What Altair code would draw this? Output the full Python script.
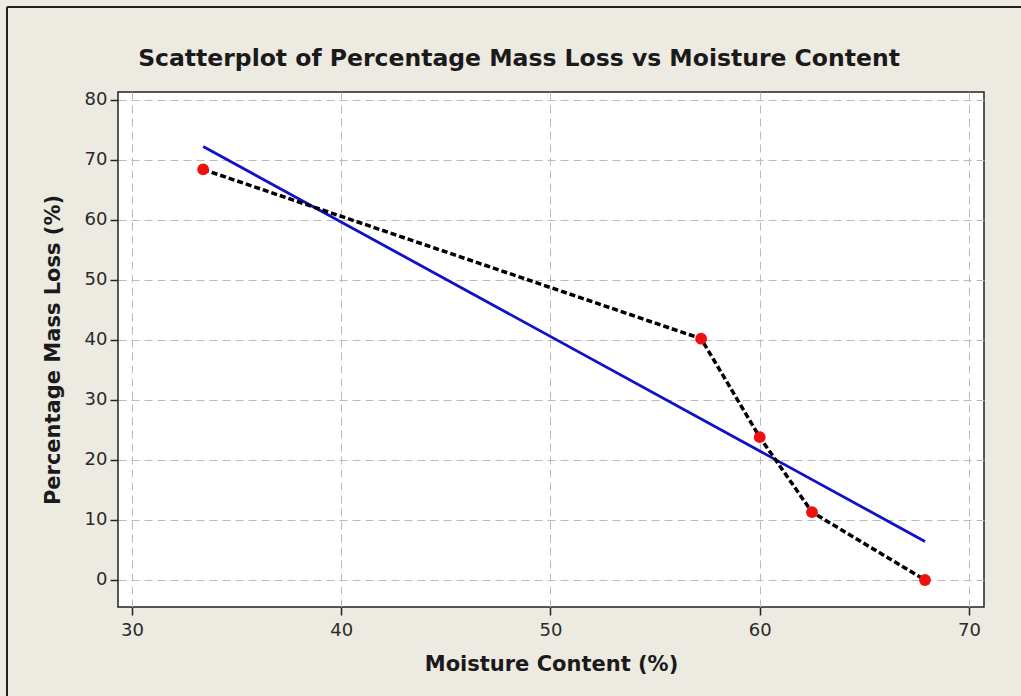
import altair as alt
import pandas as pd

moisture = [33.4, 57.2, 60.0, 62.5, 67.9]
mass_loss = [68.4, 40.2, 23.8, 11.3, 0.0]
title_text = ["Scatterplot of Percentage Mass Loss vs Moisture Content"]

df = pd.DataFrame({"Moisture": moisture, "MassLoss": mass_loss})

FONT = "DejaVu Sans"
W, H = 866, 515

xs = alt.Scale(domain=[29.33, 70.72], nice=False, zero=False)
ys = alt.Scale(domain=[-4.5, 81.3], nice=False, zero=False)

xenc = alt.X("Moisture:Q", scale=xs,
             axis=alt.Axis(values=[30, 40, 50, 60, 70], title="Moisture Content (%)"))
yenc = alt.Y("MassLoss:Q", scale=ys,
             axis=alt.Axis(values=[0, 10, 20, 30, 40, 50, 60, 70, 80],
                           title="Percentage Mass Loss (%)"))

base = alt.Chart(df)

fit = base.transform_regression("Moisture", "MassLoss").mark_line(
    color="#1010C8", strokeWidth=2.8
).encode(x=xenc, y=yenc)

conn = base.mark_line(color="black", strokeWidth=3.5, strokeDash=[6, 3]).encode(
    x=xenc, y=yenc, order="Moisture:Q"
)

pts = base.mark_circle(color="#F01010", opacity=1, size=140).encode(x=xenc, y=yenc)

frame_left = alt.Chart(df).mark_rule(color="#222222", strokeWidth=1.5).encode(
    x=alt.value(-111), y=alt.value(-85), y2=alt.value(H + 89)
)
frame_top = alt.Chart(df).mark_rule(color="#222222", strokeWidth=1.5).encode(
    x=alt.value(-111), x2=alt.value(W + 37), y=alt.value(-85)
)

title = alt.Chart(pd.DataFrame({"t": title_text})).mark_text(
    font=FONT, fontSize=23.5, fontWeight="bold", color="#1a1a1a",
    align="center", baseline="alphabetic",
).encode(text="t:N", x=alt.value(401), y=alt.value(-26))

chart = alt.layer(frame_left, frame_top, fit, conn, pts, title).properties(
    width=W,
    height=H,
    autosize=alt.AutoSizeParams(type="none"),
    padding={"left": 118, "top": 92, "right": 37, "bottom": 89},
    background="#EDEAE1",
).configure_view(
    fill="white", stroke="#222222", strokeWidth=1.5
).configure_axis(
    labelFont=FONT, labelFontSize=18, labelColor="#2a2a2a",
    titleFont=FONT, titleFontSize=21, titleFontWeight="bold", titleColor="#1a1a1a",
    domain=False, tickColor="#222222", tickSize=8, tickWidth=1.5,
    grid=True, gridColor="#BBBBBB", gridDash=[8, 5], gridWidth=1,
).configure_axisX(titlePadding=14, labelPadding=6).configure_axisY(titlePadding=21, labelPadding=3)

chart.save("out.html", embed_options={"renderer": "svg", "actions": False})
